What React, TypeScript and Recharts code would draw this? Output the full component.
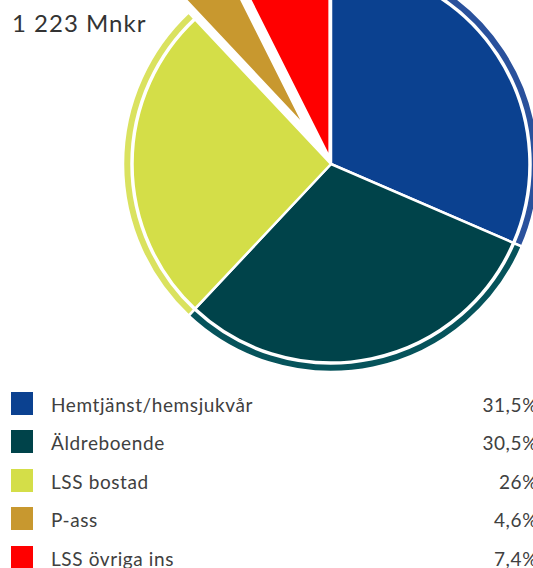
import { PieChart, Pie, Cell } from 'recharts'

const categories = ['Hemtjänst/hemsjukvår', 'Äldreboende', 'LSS bostad', 'P-ass', 'LSS övriga ins']
const shares = [31.5, 30.5, 26, 4.6, 7.4]
const totalLabel = '1 223 Mnkr'

const COLORS = ['#0b4190', '#00434a', '#d4de48', '#c8982f', '#ff0000']
const RING_COLORS = ['#2a519c', '#06535b', '#dae25f', '#cfa43f', '#ff2020']
// how far a slice is pulled out of the pie, in px
const EXPLODE: Record<string, number> = { 'P-ass': 45, 'LSS övriga ins': 6 }

const CX = 331
const CY = 164
const FONT = 'Lato, "Open Sans", sans-serif'

const data = categories.map((name, i) => ({ name, value: shares[i] }))
const total = shares.reduce((a, b) => a + b, 0)

function midAngle(index: number) {
    const before = shares.slice(0, index).reduce((a, b) => a + b, 0)
    return 90 - (360 * (before + shares[index] / 2)) / total
}

function PieLayer({ cx, cy, only, skip }: { cx: number; cy: number; only?: number; skip?: boolean }) {
    const show = (i: number) => (only !== undefined ? i === only : !(skip && EXPLODE[categories[i]]))
    return [
        <Pie
            key={`ring-${only ?? 'all'}`}
            data={data}
            dataKey="value"
            nameKey="name"
            cx={cx}
            cy={cy}
            innerRadius={199.5}
            outerRadius={208}
            startAngle={90}
            endAngle={-270}
            isAnimationActive={false}
        >
            {data.map((d, i) => (
                <Cell
                    key={`r-${i}`}
                    fill={show(i) ? RING_COLORS[i] : 'transparent'}
                    stroke={show(i) ? '#fff' : 'none'}
                    strokeWidth={2.5}
                />
            ))}
        </Pie>,
        <Pie
            key={`main-${only ?? 'all'}`}
            data={data}
            dataKey="value"
            nameKey="name"
            cx={cx}
            cy={cy}
            outerRadius={198.5}
            startAngle={90}
            endAngle={-270}
            isAnimationActive={false}
        >
            {data.map((d, i) => (
                <Cell
                    key={`m-${i}`}
                    fill={show(i) ? COLORS[i] : 'transparent'}
                    stroke={show(i) ? '#fff' : 'none'}
                    strokeWidth={2.5}
                />
            ))}
        </Pie>,
    ]
}

export default function App() {
    const exploded = categories
        .map((name, i) => ({ name, i }))
        .filter((c) => EXPLODE[c.name])

    return (
        <div style={{ position: 'absolute', left: 0, top: 0, width: 533, height: 568, overflow: 'hidden', background: '#fff' }}>
            <PieChart width={533} height={380} margin={{ top: 0, right: 0, bottom: 0, left: 0 }}>
                {PieLayer({ cx: CX, cy: CY, skip: true })}
                {exploded.map(({ name, i }) => {
                    const a = (midAngle(i) * Math.PI) / 180
                    const d = EXPLODE[name]
                    return PieLayer({ cx: CX + d * Math.cos(a), cy: CY - d * Math.sin(a), only: i })
                })}
            </PieChart>

            <div
                style={{
                    position: 'absolute',
                    left: 12,
                    top: 8,
                    fontFamily: FONT,
                    fontSize: 24,
                    letterSpacing: 1,
                    color: '#333',
                    lineHeight: '30px',
                }}
            >
                {totalLabel}
            </div>

            {categories.map((name, i) => (
                <div
                    key={name}
                    style={{
                        position: 'absolute',
                        left: 0,
                        top: 392 + i * 38.4,
                        width: 538,
                        height: 23,
                        display: 'flex',
                        alignItems: 'center',
                        fontFamily: FONT,
                        fontSize: 19,
                        letterSpacing: 0.6,
                        color: '#404040',
                    }}
                >
                    <div style={{ position: 'absolute', left: 11, top: 0, width: 22, height: 23, background: COLORS[i] }} />
                    <span style={{ position: 'absolute', left: 51, top: 1 }}>{name}</span>
                    <span style={{ position: 'absolute', right: 0, top: 1 }}>{String(shares[i]).replace('.', ',')}%</span>
                </div>
            ))}
        </div>
    )
}
